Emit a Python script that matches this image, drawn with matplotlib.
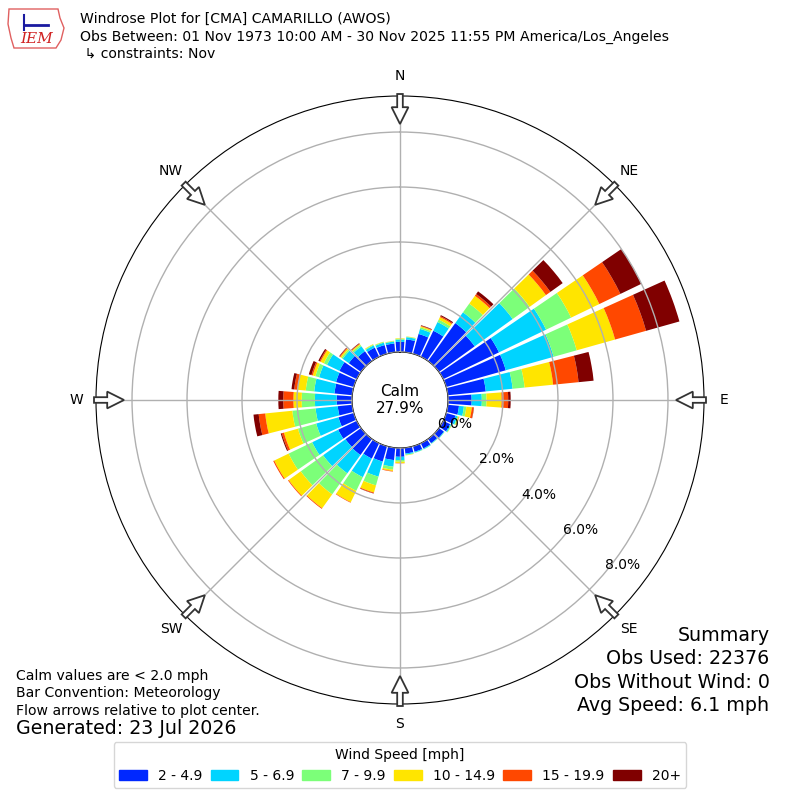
import numpy as np
import matplotlib
matplotlib.use("Agg")
import matplotlib.pyplot as plt
from matplotlib.patches import FancyArrow, Patch, Polygon

# wind direction bins (deg, meteorological) and speed classes
directions = np.arange(0, 360, 10)
speed_labels = ["2 - 4.9", "5 - 6.9", "7 - 9.9", "10 - 14.9", "15 - 19.9", "20+"]
colors = ["#0028ff", "#00d4ff", "#7cff79", "#ffe500", "#ff4800", "#800000"]

# percent of observations per direction, one list per speed class
spd_2_5 = [0.37, 0.47, 0.75, 1.05, 1.70, 1.60, 2.25, 2.25, 1.39, 0.86, 0.41, 0.35,
           0.28, 0.22, 0.19, 0.21, 0.21, 0.21, 0.32, 0.45, 0.58, 0.62, 0.72, 0.70,
           0.75, 0.58, 0.53, 0.56, 0.65, 0.67, 0.70, 0.55, 0.44, 0.37, 0.33, 0.32]
spd_5_7 = [0.08, 0.08, 0.19, 0.35, 0.48, 1.70, 1.90, 1.81, 0.98, 0.37, 0.18, 0.07,
           0.04, 0.02, 0.02, 0.03, 0.03, 0.04, 0.12, 0.24, 0.57, 0.75, 0.82, 1.00,
           1.05, 0.84, 0.81, 0.79, 0.74, 0.64, 0.50, 0.27, 0.22, 0.09, 0.09, 0.07]
spd_7_10 = [0.03, 0.02, 0.06, 0.10, 0.39, 0.76, 1.01, 0.87, 0.44, 0.17, 0.09, 0.04,
            0.02, 0.01, 0.01, 0.01, 0.01, 0.02, 0.06, 0.11, 0.33, 0.55, 0.94, 1.00,
            0.95, 0.69, 0.85, 0.48, 0.31, 0.14, 0.13, 0.06, 0.06, 0.03, 0.03, 0.02]
spd_10_15 = [0.02, 0.01, 0.04, 0.10, 0.35, 0.73, 1.14, 1.45, 1.04, 0.55, 0.20, 0.03,
             0.01, 0.00, 0.00, 0.00, 0.00, 0.01, 0.05, 0.05, 0.27, 0.46, 0.62, 0.54,
             0.58, 0.53, 0.99, 0.30, 0.30, 0.10, 0.13, 0.05, 0.04, 0.02, 0.01, 0.01]
spd_15_20 = [0.00, 0.00, 0.02, 0.04, 0.08, 0.20, 0.85, 1.17, 0.93, 0.24, 0.07, 0.01,
             0.00, 0.00, 0.00, 0.00, 0.00, 0.00, 0.01, 0.02, 0.03, 0.02, 0.03, 0.03,
             0.04, 0.08, 0.24, 0.37, 0.12, 0.05, 0.04, 0.03, 0.02, 0.00, 0.00, 0.00]
spd_20p = [0.00, 0.00, 0.02, 0.04, 0.12, 0.55, 0.85, 1.26, 0.55, 0.09, 0.01, 0.00,
           0.00, 0.00, 0.00, 0.00, 0.00, 0.00, 0.00, 0.00, 0.01, 0.00, 0.00, 0.00,
           0.00, 0.04, 0.19, 0.18, 0.10, 0.10, 0.05, 0.02, 0.02, 0.00, 0.00, 0.00]
speed_bins = [spd_2_5, spd_5_7, spd_7_10, spd_10_15, spd_15_20, spd_20p]

calm_pct = 27.9
rticks = [0, 2, 4, 6, 8]
compass = ["N", "NE", "E", "SE", "S", "SW", "W", "NW"]

fig = plt.figure(figsize=(8, 8), dpi=100)
ax = fig.add_axes([0.12, 0.12, 0.76, 0.76], projection="polar")
ax.set_theta_zero_location("N")
ax.set_theta_direction(-1)

theta = np.deg2rad(directions)
bottom = np.zeros(len(directions))
for vals, c, lab in zip(speed_bins, colors, speed_labels):
    ax.bar(theta, vals, width=np.deg2rad(8.6), bottom=bottom, color=c,
           linewidth=0, label=lab)
    bottom += np.array(vals)

ax.set_ylim(0, 9.31)
ax.set_rorigin(-1.745)
ax.set_yticks(rticks)
ax.set_yticklabels([f"{v:.1f}%" for v in rticks], fontsize=10)
ax.set_rlabel_position(130)
ax.set_xticks(np.deg2rad(np.arange(0, 360, 45)))
ax.set_xticklabels([])
ax.set_axisbelow(False)
ax.grid(True, color="#b0b0b0", lw=1)

# direction labels and inward flow arrows
for i, lab in enumerate(compass):
    a = np.deg2rad(i * 45)
    s, c = np.sin(a), np.cos(a)
    fig.text(0.5 + 0.405 * s, 0.5 + 0.405 * c, lab, ha="center", va="center",
             fontsize=10)
    r0, r1 = 0.3825, 0.345
    fig.add_artist(FancyArrow(0.5 + r0 * s, 0.5 + r0 * c, (r1 - r0) * s,
                              (r1 - r0) * c, width=0.007, head_width=0.021,
                              head_length=0.021, length_includes_head=True,
                              fc="white", ec="#333333", lw=1.3,
                              transform=fig.transFigure))

fig.text(0.5, 0.5, f"Calm\n{calm_pct:.1f}%", ha="center", va="center",
         fontsize=11)

# header
fig.text(0.1, 0.976, "Windrose Plot for [CMA] CAMARILLO (AWOS)", fontsize=10.1,
         va="center")
fig.text(0.1, 0.954, "Obs Between: 01 Nov 1973 10:00 AM - 30 Nov 2025 11:55 PM "
         "America/Los_Angeles", fontsize=10.1, va="center")
fig.text(0.1, 0.9325, " \u21b3 constraints: Nov", fontsize=10.1, va="center")

# crude IEM logo
logo = [(9, 9), (58, 9), (60, 18), (64, 28), (61, 40), (56, 48), (14, 48),
        (11, 38), (8, 24)]
fig.add_artist(Polygon([(x / 800, 1 - y / 800) for x, y in logo], closed=True,
                       fill=False, ec="#e06060", lw=1, transform=fig.transFigure))
fig.add_artist(plt.Line2D([24 / 800, 48 / 800], [1 - 25 / 800, 1 - 25 / 800],
                          color="#1a1aa0", lw=2, transform=fig.transFigure))
fig.add_artist(plt.Line2D([24 / 800, 24 / 800], [1 - 15 / 800, 1 - 30 / 800],
                          color="#1a1aa0", lw=1.5, transform=fig.transFigure))
fig.text(37 / 800, 1 - 39 / 800, "IEM", color="#d02020", fontsize=11,
         family="DejaVu Serif", style="italic", ha="center", va="center")

# footer notes
fig.text(0.02, 1 - 676 / 800, "Calm values are < 2.0 mph", fontsize=10.1,
         va="center")
fig.text(0.02, 1 - 693 / 800, "Bar Convention: Meteorology", fontsize=10.1,
         va="center")
fig.text(0.02, 1 - 710.5 / 800, "Flow arrows relative to plot center.",
         fontsize=10.1, va="center")
fig.text(0.02, 1 - 728.5 / 800, "Generated: 23 Jul 2026", fontsize=13.7,
         va="center")

summary = ["Summary", "Obs Used: 22376", "Obs Without Wind: 0",
           "Avg Speed: 6.1 mph"]
for k, line in enumerate(summary):
    fig.text(0.962, 1 - (635.5 + 23.3 * k) / 800, line, fontsize=13.7,
             ha="right", va="center")

handles = [Patch(color=c, label=l) for c, l in zip(colors, speed_labels)]
fig.legend(handles=handles, loc="lower center", bbox_to_anchor=(0.5, 0.006),
           ncol=6, title="Wind Speed [mph]", fontsize=10, title_fontsize=10,
           columnspacing=0.6)

fig.savefig("out.png", dpi=100)
